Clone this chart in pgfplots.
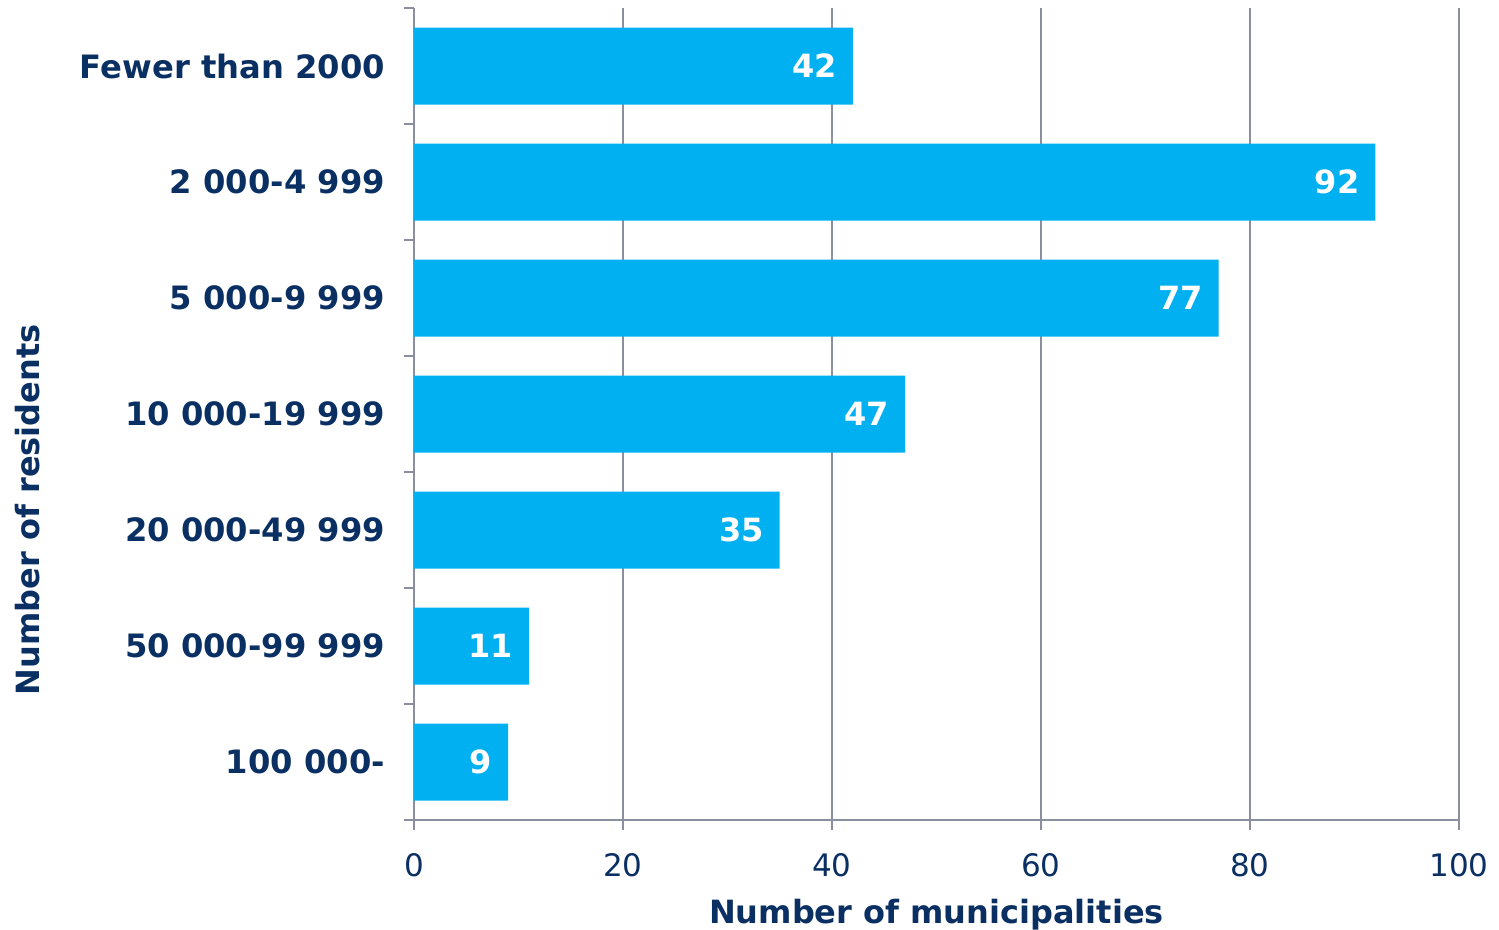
\documentclass[border=0pt]{standalone}
\usepackage{fontspec}
\setmainfont{DejaVu Sans}
\usepackage{pgfplots}
\pgfplotsset{compat=1.18}

\definecolor{navy}{HTML}{0A2F62}
\definecolor{barblue}{HTML}{00B0F0}
\definecolor{gridgray}{HTML}{8A8E9E}

\begin{document}
\begin{tikzpicture}
\begin{axis}[
    name=ax,
    scale only axis,
    width=522.5pt, height=406pt,
    xbar, bar width=38.5pt,
    xmin=0, xmax=100,
    ymin=-0.5, ymax=6.5,
    y dir=reverse,
    xtick={0,20,...,100},
    ytick={-0.5,0.5,...,6.5},
    y tick label as interval,
    yticklabels={Fewer than 2000, 2 000-4 999, 5 000-9 999, 10 000-19 999,
                 20 000-49 999, 50 000-99 999, 100 000-},
    axis x line*=bottom, axis y line*=left,
    axis line style={gridgray, line width=0.9pt, -},
    tick style={gridgray, line width=0.9pt},
    tick align=outside, major tick length=5pt,
    xmajorgrids,
    grid style={gridgray, line width=0.9pt},
    /pgf/number format/assume math mode=true,
    ticklabel style={font=\fontsize{15.5}{18}\selectfont, text=navy},
    yticklabel style={font=\fontsize{16.1}{18}\selectfont\bfseries, xshift=-6pt},
    xticklabel style={yshift=-8pt},
    xlabel={Number of municipalities},
    ylabel={Number of residents},
    label style={font=\fontsize{16}{18}\selectfont\bfseries, text=navy},
    xlabel style={at={(axis description cs:0.5,0)}, anchor=south, yshift=-58.5pt},
    ylabel style={at={(axis description cs:-0.370,0.382)}, anchor=center, rotate=0},
    nodes near coords,
    every node near coord/.append style={anchor=east, xshift=-4.5pt, text=white,
        font=\fontsize{16}{18}\selectfont\bfseries},
]
\addplot[fill=barblue, draw=none] coordinates {
    (42,0) (92,1) (77,2) (47,3) (35,4) (11,5) (9,6)
};
\end{axis}
\pgfresetboundingbox
\path (ax.south west) ++(-207pt,-55pt) rectangle ++(749.5pt,465pt);
\end{tikzpicture}
\end{document}
